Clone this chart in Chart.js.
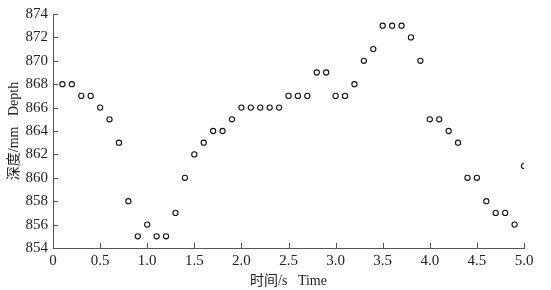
<!DOCTYPE html>
<html>
<head>
<meta charset="utf-8">
<script src="https://cdn.jsdelivr.net/npm/chart.js@4"></script>
<style>
  html, body { margin: 0; padding: 0; background: #fff; }
  #wrap { width: 551px; height: 290px; }
</style>
</head>
<body>
<div id="wrap"><canvas id="chart"></canvas></div>
<script>
// data
const times = [0.1, 0.2, 0.3, 0.4, 0.5, 0.6, 0.7, 0.8, 0.9, 1.0,
  1.1, 1.2, 1.3, 1.4, 1.5, 1.6, 1.7, 1.8, 1.9, 2.0,
  2.1, 2.2, 2.3, 2.4, 2.5, 2.6, 2.7, 2.8, 2.9, 3.0,
  3.1, 3.2, 3.3, 3.4, 3.5, 3.6, 3.7, 3.8, 3.9, 4.0,
  4.1, 4.2, 4.3, 4.4, 4.5, 4.6, 4.7, 4.8, 4.9, 5.0];
const depths = [868, 868, 867, 867, 866, 865, 863, 858, 855, 856,
  855, 855, 857, 860, 862, 863, 864, 864, 865, 866,
  866, 866, 866, 866, 867, 867, 867, 869, 869, 867,
  867, 868, 870, 871, 873, 873, 873, 872, 870, 865,
  865, 864, 863, 860, 860, 858, 857, 857, 856, 861];
const xTicks = [0, 0.5, 1.0, 1.5, 2.0, 2.5, 3.0, 3.5, 4.0, 4.5, 5.0];
const yTicks = [854, 856, 858, 860, 862, 864, 866, 868, 870, 872, 874];
const xTitle = "时间/s   Time";
const yTitle = "深度/mm   Depth";

const serif = "'Liberation Serif', 'Noto Sans CJK SC', serif";
const axisColor = "#555";
const textColor = "#222";

// inward tick marks
const innerTicks = {
  id: "innerTicks",
  afterDraw(chart) {
    const ctx = chart.ctx, x = chart.scales.x, y = chart.scales.y;
    ctx.save();
    ctx.strokeStyle = axisColor;
    ctx.lineWidth = 1;
    ctx.beginPath();
    xTicks.forEach((t) => {
      const px = Math.round(x.getPixelForValue(t)) + 0.5;
      ctx.moveTo(px, y.bottom);
      ctx.lineTo(px, y.bottom - 5);
    });
    yTicks.forEach((t) => {
      const py = Math.round(y.getPixelForValue(t)) + 0.5;
      ctx.moveTo(x.left, py);
      ctx.lineTo(x.left + 5, py);
    });
    ctx.stroke();
    ctx.restore();
  },
};

const points = times.map((t, i) => ({ x: t, y: depths[i] }));

new Chart(document.getElementById("chart"), {
  type: "scatter",
  data: {
    datasets: [
      {
        data: points,
        pointStyle: "circle",
        pointRadius: 2.6,
        pointBorderWidth: 1.1,
        pointBorderColor: "#111",
        pointBackgroundColor: "rgba(0,0,0,0)",
      },
    ],
  },
  options: {
    responsive: true,
    maintainAspectRatio: false,
    animation: false,
    layout: { padding: { left: 0, right: 27, top: 14, bottom: 0 } },
    plugins: { legend: { display: false }, tooltip: { enabled: false } },
    scales: {
      x: {
        type: "linear",
        min: 0,
        max: 5,
        afterBuildTicks: (s) => { s.ticks = xTicks.map((v) => ({ value: v })); },
        afterFit: (s) => { s.height = 42; },
        grid: { display: false, drawTicks: false },
        border: { display: true, color: axisColor, width: 1 },
        ticks: {
          color: textColor,
          padding: 4,
          font: { family: serif, size: 15 },
          maxRotation: 0,
          callback: (v) => (v === 0 ? "0" : v.toFixed(1)),
        },
        title: {
          display: true,
          text: xTitle,
          color: textColor,
          padding: { top: 1, bottom: 0 },
          font: { family: serif, size: 14 },
        },
      },
      y: {
        min: 854,
        max: 874,
        afterBuildTicks: (s) => { s.ticks = yTicks.map((v) => ({ value: v })); },
        afterFit: (s) => { s.width = 53; },
        grid: { display: false, drawTicks: false },
        border: { display: true, color: axisColor, width: 1 },
        ticks: {
          color: textColor,
          padding: 5,
          font: { family: serif, size: 15 },
        },
        title: {
          display: true,
          text: yTitle,
          color: textColor,
          padding: { top: 6, bottom: 0 },
          font: { family: serif, size: 14 },
        },
      },
    },
  },
  plugins: [innerTicks],
});
</script>
</body>
</html>
